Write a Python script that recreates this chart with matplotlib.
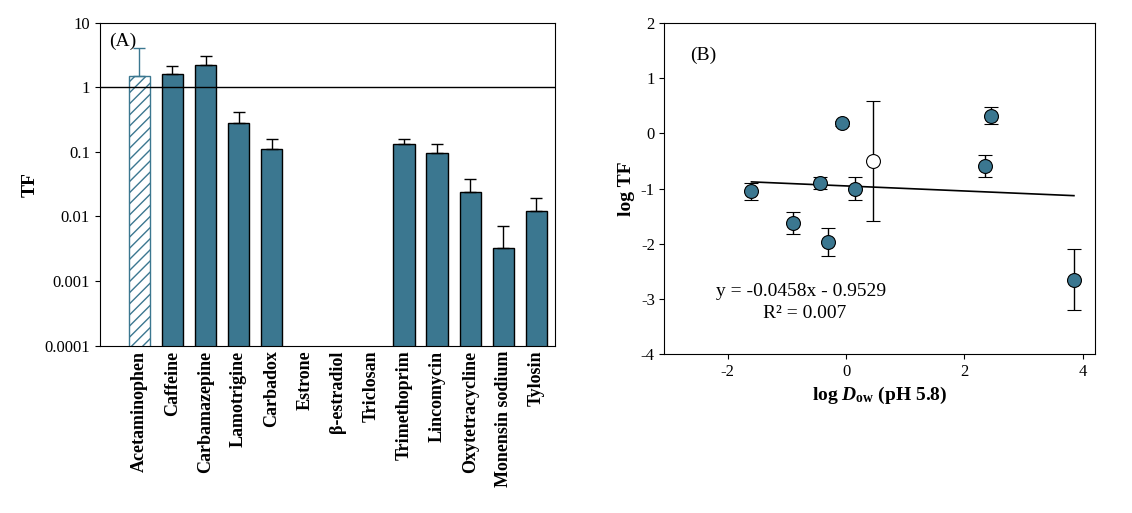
import matplotlib
matplotlib.use("Agg")
import matplotlib.pyplot as plt
import numpy as np

plt.rcParams['font.family'] = ['Liberation Serif', 'DejaVu Serif']
plt.rcParams['axes.unicode_minus'] = False
plt.rcParams['mathtext.fontset'] = 'custom'
plt.rcParams['mathtext.rm'] = 'Liberation Serif:bold'
plt.rcParams['mathtext.it'] = 'Liberation Serif:bold:italic'
plt.rcParams['mathtext.bf'] = 'Liberation Serif:bold'

compounds = ["Acetaminophen", "Caffeine", "Carbamazepine", "Lamotrigine", "Carbadox",
             "Estrone", "β-estradiol", "Triclosan", "Trimethoprim", "Lincomycin",
             "Oxytetracycline", "Monensin sodium", "Tylosin"]
tf = [1.5, 1.6, 2.2, 0.28, 0.11, np.nan, np.nan, np.nan, 0.13, 0.095, 0.024, 0.0032, 0.012]
tf_upper = [4.0, 2.1, 3.0, 0.42, 0.16, np.nan, np.nan, np.nan, 0.16, 0.13, 0.038, 0.0072, 0.019]

logdow = [-1.6, -0.9, -0.45, -0.3, -0.07, 0.15, 0.45, 2.35, 2.45, 3.85]
logtf = [-1.05, -1.62, -0.9, -1.97, 0.18, -1.0, -0.5, -0.6, 0.32, -2.65]
logtf_err = [0.15, 0.2, 0.1, 0.25, 0.05, 0.2, 1.08, 0.2, 0.15, 0.55]
hollow = [False, False, False, False, False, False, True, False, False, False]
slope, intercept = -0.0458, -0.9529

col = '#3b7790'
fig = plt.figure(figsize=(11.32, 5.13), dpi=100)
axA = fig.add_axes([0.088, 0.326, 0.402, 0.63])
x = np.arange(len(compounds))
for i in range(len(compounds)):
    if np.isnan(tf[i]):
        continue
    if i == 0:
        axA.bar(i, tf[i], width=0.65, facecolor='white', edgecolor=col, hatch='///', linewidth=1)
        axA.errorbar(i, tf[i], yerr=[[0], [tf_upper[i]-tf[i]]], color=col, capsize=4, lw=1)
    else:
        axA.bar(i, tf[i], width=0.65, facecolor=col, edgecolor='black', linewidth=1)
        axA.errorbar(i, tf[i], yerr=[[0], [tf_upper[i]-tf[i]]], color='black', capsize=4, lw=1)
axA.set_yscale('log')
axA.set_ylim(1e-4, 10)
axA.set_xlim(-1.2, len(compounds)-0.45)
axA.axhline(1, color='black', lw=1)
axA.set_yticks([1e-4, 1e-3, 1e-2, 0.1, 1, 10])
axA.set_yticklabels(['0.0001', '0.001', '0.01', '0.1', '1', '10'], fontsize=12)
axA.minorticks_off()
axA.set_xticks(x)
axA.set_xticklabels(compounds, rotation=90, fontsize=13, fontweight='bold')
axA.tick_params(axis='x', length=0)
axA.set_ylabel('TF', fontsize=14, fontweight='bold')
axA.text(0.02, 0.97, '(A)', transform=axA.transAxes, fontsize=14, va='top')

axB = fig.add_axes([0.587, 0.31, 0.38, 0.645])
for xi, yi, ei, h in zip(logdow, logtf, logtf_err, hollow):
    axB.errorbar(xi, yi, yerr=ei, fmt='o', ms=10, mfc='white' if h else col, mec='black',
                 mew=0.8, ecolor='black', capsize=5, lw=1, zorder=3)
xl = np.array([min(logdow), max(logdow)])
axB.plot(xl, slope*xl+intercept, color='black', lw=1.2)
axB.set_xlim(-3.07, 4.2)
axB.set_ylim(-4, 2)
axB.set_xticks([-2, 0, 2, 4])
axB.set_yticks(range(-4, 3))
axB.tick_params(labelsize=12)
axB.set_xlabel(r'log $D_{\mathrm{ow}}$ (pH 5.8)', fontsize=14, fontweight='bold')
axB.set_ylabel('log TF', fontsize=14, fontweight='bold')
axB.text(0.06, 0.93, '(B)', transform=axB.transAxes, fontsize=14, va='top')
axB.text(-2.2, -2.95, 'y = -0.0458x - 0.9529', fontsize=14)
axB.text(-1.4, -3.35, 'R² = 0.007', fontsize=14)

fig.savefig('out.png', dpi=100)
